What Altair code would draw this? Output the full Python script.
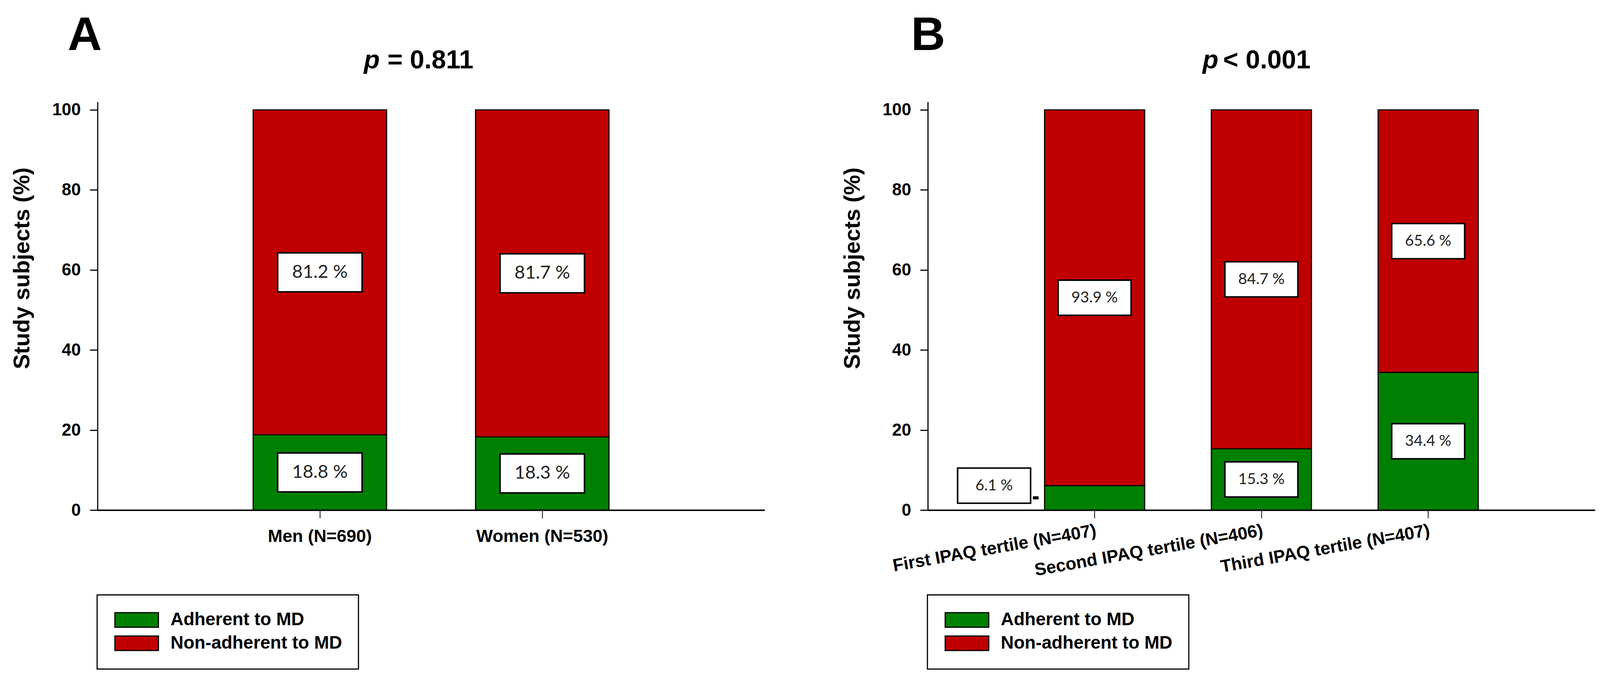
import altair as alt
import pandas as pd

# ---------------- data ----------------
groups = ["Adherent to MD", "Non-adherent to MD"]
group_colors = ["#008000", "#C00000"]

a_cats = ["Men (N=690)", "Women (N=530)"]
a_adherent = [18.8, 18.3]
a_non_adherent = [81.2, 81.7]
a_letter = "A"
a_p_rest = "= 0.811"

b_cats = ["First IPAQ tertile (N=407)", "Second IPAQ tertile (N=406)", "Third IPAQ tertile (N=407)"]
b_adherent = [6.1, 15.3, 34.4]
b_non_adherent = [93.9, 84.7, 65.6]
b_letter = "B"
b_p_rest = "< 0.001"

y_ticks = [0, 20, 40, 60, 80, 100]

# ---------------- style ----------------
FONT = "Liberation Sans"
LABEL_FONT = "Lato"
PW, PH = 1746, 1068


def rect_path(w, h):
    r = h / w
    return f"M-1,-{r:.4f}L1,-{r:.4f}L1,{r:.4f}L-1,{r:.4f}Z"


def make_df(cats, adh, non):
    rows = []
    for c, a, n in zip(cats, adh, non):
        rows.append(dict(cat=c, group=groups[0], value=a, order=0))
        rows.append(dict(cat=c, group=groups[1], value=n, order=1))
    return pd.DataFrame(rows)


def panel(cats, adh, non, letter, p_rest, rotated, box_w, box_h, lab_size,
          letter_x, p_left, rest_left):
    df = make_df(cats, adh, non)

    if rotated:
        x_axis = alt.Axis(labelAngle=350, labelAlign="right", labelBaseline="top",
                          labelFont=FONT, labelFontWeight="bold", labelFontSize=46,
                          labelColor="black", labelPadding=10, labelLimit=0,
                          tickSize=21, tickWidth=2, tickColor="black",
                          domainColor="black", domainWidth=4, title=None)
    else:
        x_axis = alt.Axis(labelAngle=0, labelFont=FONT, labelFontWeight="bold",
                          labelFontSize=46, labelColor="black", labelPadding=26,
                          labelLimit=0, tickSize=21, tickWidth=2, tickColor="black",
                          domainColor="black", domainWidth=4, title=None)

    def X():
        return alt.X("cat:N", sort=cats,
                     scale=alt.Scale(paddingInner=0.4, paddingOuter=0.7),
                     axis=x_axis, title=None)

    y_axis = alt.Axis(values=y_ticks, labelFont=FONT, labelFontWeight="bold",
                      labelFontSize=45, labelColor="black", labelPadding=24,
                      tickSize=20, tickWidth=3, tickColor="black",
                      domainColor="black", domainWidth=3, grid=False,
                      title="Study subjects (%)", titleFont=FONT,
                      titleFontWeight="bold", titleFontSize=59, titleColor="black",
                      titleX=-197, titleY=435, titleAngle=270, titleAlign="center",
                      titleBaseline="middle")

    def Y(field):
        return alt.Y(field, scale=alt.Scale(domain=[0, 102], nice=False),
                     axis=y_axis, title="Study subjects (%)")

    base = (alt.Chart(df)
            .transform_stack(stack="value", groupby=["cat"], as_=["y0", "y1"],
                             sort=[alt.SortField("order")])
            .transform_calculate(mid="(datum.y0 + datum.y1) / 2",
                                 label="format(datum.value, '.1f') + ' %'"))

    legend = alt.Legend(orient="none", legendX=-1, legendY=1290, direction="vertical",
                        title=None, symbolType="M-3,-1L3,-1L3,1L-3,1Z",
                        symbolSize=38 ** 2, symbolOffset=38,
                        symbolStrokeColor="black", symbolStrokeWidth=3, symbolOpacity=1,
                        labelFont=FONT, labelFontWeight="bold", labelFontSize=47,
                        labelColor="black", labelOffset=65, rowPadding=10,
                        padding=42, strokeColor="black", fillColor="white",
                        labelLimit=0)

    bars = base.mark_bar(stroke="black", strokeWidth=3, opacity=1).encode(
        x=X(), y=Y("y0:Q"), y2="y1:Q",
        color=alt.Color("group:N", scale=alt.Scale(domain=groups, range=group_colors),
                        legend=legend),
        order=alt.Order("order:Q"),
    )

    inside = base.transform_filter("datum.value >= 10")
    boxes = inside.mark_point(shape=rect_path(box_w, box_h), size=box_w ** 2,
                              filled=True, fill="white", stroke="black",
                              strokeWidth=4, opacity=1).encode(x=X(), y=Y("mid:Q"))
    texts = inside.mark_text(font=LABEL_FONT, fontSize=lab_size, color="#222222",
                             baseline="middle").encode(x=X(), y=Y("mid:Q"), text="label:N")

    outside = base.transform_filter("datum.value < 10")
    out_boxes = outside.mark_point(shape=rect_path(box_w, box_h), size=box_w ** 2,
                                   filled=True, fill="white", stroke="black",
                                   strokeWidth=4, opacity=1,
                                   xOffset=-263).encode(x=X(), y=Y("y1:Q"))
    out_texts = outside.mark_text(font=LABEL_FONT, fontSize=lab_size, color="#222222",
                                  baseline="middle", xOffset=-263).encode(
        x=X(), y=Y("y1:Q"), text="label:N")
    out_dash = outside.mark_point(shape=rect_path(14, 7), size=14 ** 2, filled=True,
                                  fill="black", stroke="black", strokeWidth=1,
                                  opacity=1, xOffset=-154).encode(x=X(), y=Y("mid:Q"))

    tdf = pd.DataFrame({"letter": [letter], "p": ["p"], "rest": [p_rest]})
    letter_txt = alt.Chart(tdf).mark_text(align="left", baseline="alphabetic",
                                          font=FONT, fontSize=124, fontWeight="bold",
                                          color="black").encode(
        x=alt.value(letter_x), y=alt.value(-136), text="letter:N")
    p_txt = alt.Chart(tdf).mark_text(align="left", baseline="alphabetic", font=FONT,
                                     fontSize=68, fontWeight="bold", fontStyle="italic",
                                     color="black").encode(
        x=alt.value(p_left), y=alt.value(-88), text="p:N")
    rest_txt = alt.Chart(tdf).mark_text(align="left", baseline="alphabetic", font=FONT,
                                        fontSize=68, fontWeight="bold",
                                        color="black").encode(
        x=alt.value(rest_left), y=alt.value(-88), text="rest:N")

    return alt.layer(bars, boxes, texts, out_boxes, out_texts, out_dash,
                     letter_txt, p_txt, rest_txt).properties(width=PW, height=PH)


panel_a = panel(a_cats, a_adherent, a_non_adherent, a_letter, a_p_rest, False,
                221, 102, 48, -78, 697, 759)
panel_b = panel(b_cats, b_adherent, b_non_adherent, b_letter, b_p_rest, True,
                191, 92, 40, -44, 719, 773)

chart = (alt.hconcat(panel_a, panel_b, spacing=201)
         .resolve_scale(color="independent")
         .configure_view(stroke=None)
         .configure_legend(strokeWidth=3)
         .properties(padding={"left": 21, "top": 4, "right": 5, "bottom": 5},
                     background="white"))

chart.save("out.html", embed_options={"renderer": "svg", "actions": False})
